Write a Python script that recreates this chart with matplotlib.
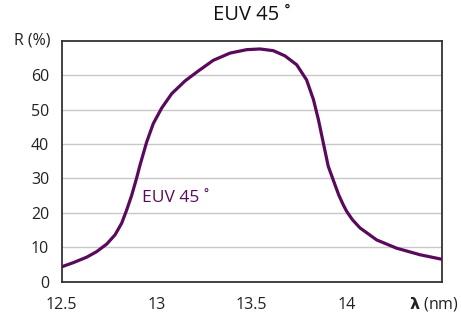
import matplotlib
matplotlib.use('Agg')
import matplotlib.pyplot as plt

# valores
wavelength = [12.500, 12.561, 12.632, 12.684, 12.737, 12.781, 12.816, 12.842, 12.868, 12.895,
              12.912, 12.947, 12.982, 13.026, 13.079, 13.149, 13.219, 13.298, 13.386, 13.474,
              13.544, 13.614, 13.675, 13.737, 13.789, 13.825, 13.851, 13.877, 13.903, 13.938,
              13.958, 13.982, 14.000, 14.030, 14.070, 14.158, 14.263, 14.386, 14.500]
reflect = [4.3, 5.5, 7.1, 8.7, 10.9, 13.6, 17.0, 20.8, 25.0, 30.2,
           33.8, 40.5, 45.9, 50.4, 54.6, 58.3, 61.2, 64.3, 66.4, 67.4,
           67.6, 67.1, 65.6, 63.0, 58.6, 52.9, 47.1, 40.3, 33.5, 28.2,
           25.2, 22.3, 20.4, 18.0, 15.6, 12.1, 9.7, 7.8, 6.5]
xticks = [12.5, 13, 13.5, 14]
xtick_labels = ['12.5', '13', '13.5', '14']
yticks = [0, 10, 20, 30, 40, 50, 60]
title = 'EUV 45 \u02da'
series_label = 'EUV 45 \u02da'

purple = '#5a0a5c'
plt.rcParams['font.family'] = ['Open Sans', 'DejaVu Sans']

fig = plt.figure(figsize=(4.61, 3.18), dpi=100)
ax = fig.add_axes([0.1338, 0.1145, 0.8243, 0.7575])

ax.plot(wavelength, reflect, color=purple, lw=2.3, solid_joinstyle='round', zorder=3)

ax.set_xlim(12.5, 14.5)
ax.set_ylim(0, 70)
ax.set_xticks(xticks)
ax.set_xticklabels(xtick_labels)
ax.set_yticks(yticks)
ax.tick_params(length=0, labelsize=11.5, colors='#222222')
ax.tick_params(axis='x', pad=11)
ax.tick_params(axis='y', pad=9)
ax.yaxis.grid(True, color='#c8c8c8', lw=1)
ax.set_axisbelow(True)
for s in ax.spines.values():
    s.set_color('#333333')
    s.set_linewidth(1.3)

ax.text(-0.03, 1.0, 'R (%)', transform=ax.transAxes, ha='right', va='center',
        fontsize=11.5, color='#222222')
ax.text(14.46, -4.0, r'$\mathbf{\lambda}$ (nm)', ha='center', va='top',
        fontsize=11.5, color='#222222')
ax.text(12.922, 24.4, series_label, color=purple, fontsize=12.5, va='center', ha='left')
# titulo centrado sobre el area de la grafica
ax.text(0.5, 1.0 + 0.082 / 0.7575, title, transform=ax.transAxes, ha='center', va='center',
        fontsize=14.5, color='#111111')

fig.savefig('out.png', dpi=100)
